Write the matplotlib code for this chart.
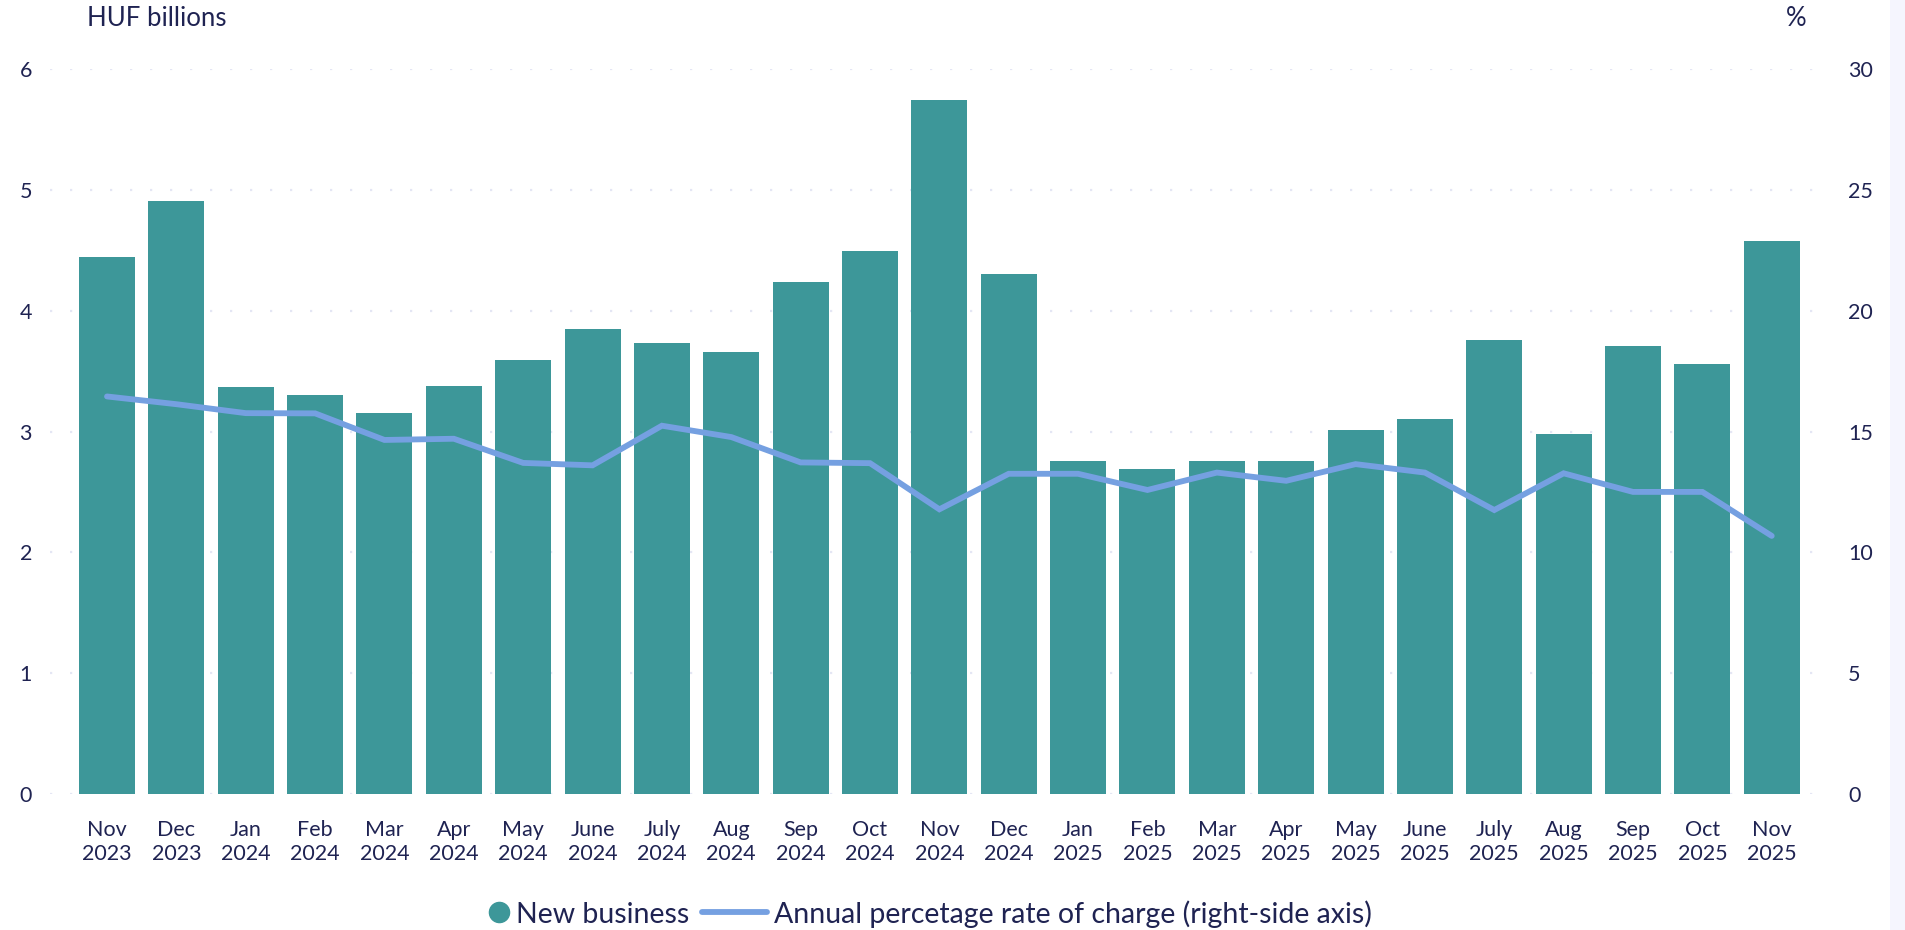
import matplotlib
matplotlib.use("Agg")
import matplotlib.pyplot as plt
from matplotlib.lines import Line2D
from matplotlib.patches import Rectangle
import numpy as np

plt.rcParams['font.family'] = ['Lato', 'DejaVu Sans']

months = ["Nov", "Dec", "Jan", "Feb", "Mar", "Apr", "May", "June", "July", "Aug", "Sep", "Oct",
          "Nov", "Dec", "Jan", "Feb", "Mar", "Apr", "May", "June", "July", "Aug", "Sep", "Oct", "Nov"]
years = ["2023", "2023"] + ["2024"] * 12 + ["2025"] * 11
new_business = [4.44, 4.91, 3.37, 3.30, 3.15, 3.38, 3.59, 3.85, 3.73, 3.66, 4.24, 4.49,
                5.74, 4.30, 2.76, 2.69, 2.76, 2.76, 3.01, 3.10, 3.76, 2.98, 3.71, 3.56, 4.58]
apr_rate = [16.45, 16.13, 15.76, 15.75, 14.65, 14.70, 13.70, 13.60, 15.24, 14.77, 13.72, 13.69,
            11.78, 13.25, 13.25, 12.58, 13.30, 12.96, 13.65, 13.30, 11.75, 13.27, 12.50, 12.50, 10.68]
left_ticks = [0, 1, 2, 3, 4, 5, 6]
right_ticks = [0, 5, 10, 15, 20, 25, 30]
legend_labels = ["New business", "Annual percetage rate of charge (right-side axis)"]

bar_color = "#3d9799"
line_color = "#75a0e1"
text_color = "#1f2352"
grid_color = "#e4e6f4"

W, H = 1906, 930
fig = plt.figure(figsize=(W / 100, H / 100), dpi=100)
fig.patch.set_facecolor("white")
fig.patches.append(Rectangle((1890 / W, 0), 16 / W, 1, transform=fig.transFigure,
                             facecolor="#f5f5fe", edgecolor="none", zorder=0))

ax = fig.add_axes([50 / W, 136 / H, 1780 / W, 725 / H])
ax2 = ax.twinx()

x = np.arange(len(months))
ax.bar(x, new_business, width=0.807, color=bar_color, zorder=2)
ax.set_ylim(0, 6)
ax.set_xlim(-0.822, 24.84)
ax.set_yticks(left_ticks)
for t in left_ticks:
    ax.axhline(t, color=grid_color, lw=1.6, linestyle=(0, (1, 8)), zorder=1)

ax2.plot(x, apr_rate, color=line_color, lw=4.2, solid_capstyle="round",
         solid_joinstyle="miter", zorder=3)
ax2.set_ylim(0, 30)
ax2.set_yticks(right_ticks)

ax.set_xticks(x)
ax.set_xticklabels([f"{m}\n{y}" for m, y in zip(months, years)], linespacing=1.25)

for a in (ax, ax2):
    for s in a.spines.values():
        s.set_visible(False)
    a.tick_params(length=0, labelsize=15.5, labelcolor=text_color)
ax.tick_params(axis="x", pad=19)
ax.tick_params(axis="y", pad=13)
ax2.tick_params(axis="y", pad=13)
ax.set_zorder(ax2.get_zorder() - 1)
ax.patch.set_visible(True)
ax.patch.set_facecolor("white")
ax2.patch.set_visible(False)

fig.text(87 / W, 1 - 18 / H, "HUF billions", fontsize=18.5, color=text_color,
         ha="left", va="center")
fig.text(1796 / W, 1 - 18 / H, "%", fontsize=18.5, color=text_color,
         ha="center", va="center")

# legend, drawn in figure coordinates
ly = 1 - 912 / H
fig.add_artist(Line2D([499 / W], [ly], marker="o", markersize=14.5, color=bar_color,
                      linestyle="none", transform=fig.transFigure))
fig.text(516 / W, ly, legend_labels[0], fontsize=20.5, color=text_color, ha="left", va="center_baseline")
fig.add_artist(Line2D([702 / W, 767 / W], [ly, ly], color=line_color, lw=4.2,
                      solid_capstyle="round", transform=fig.transFigure))
fig.text(774 / W, ly, legend_labels[1], fontsize=20.5, color=text_color, ha="left", va="center_baseline")

fig.savefig("out.png", dpi=100)
